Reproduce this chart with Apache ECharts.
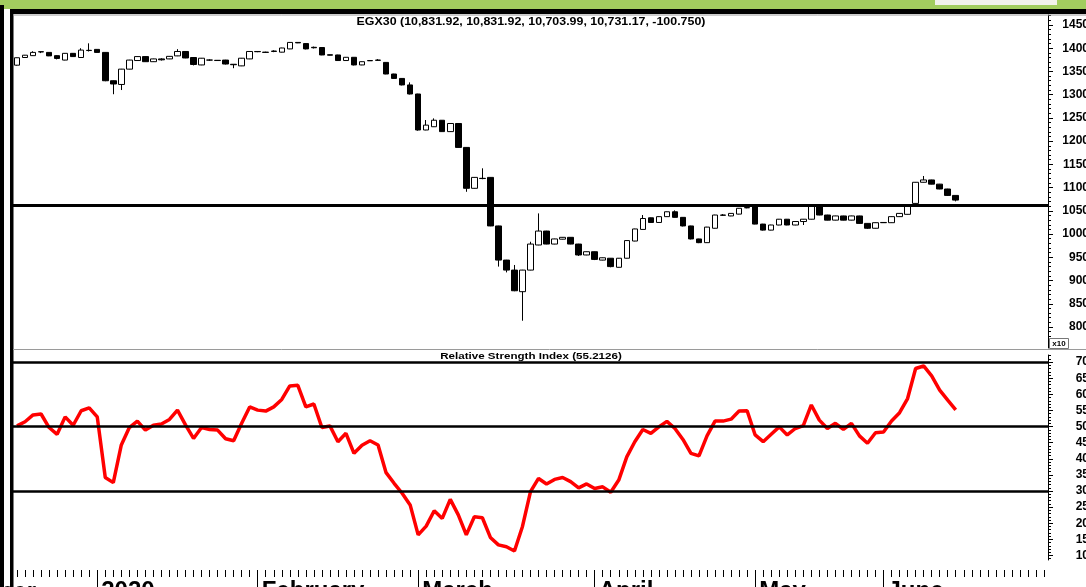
<!DOCTYPE html>
<html>
<head>
<meta charset="utf-8">
<script src="https://cdn.jsdelivr.net/npm/echarts@6/dist/echarts.min.js"></script>
<style>
  html, body { margin: 0; padding: 0; background: #fff; }
  #chart { width: 1086px; height: 587px; }
</style>
</head>
<body>
<div id="chart"></div>
<script>
// trading days (last 11 are empty future slots on the axis)
const dates = [
  '2019-12-18','2019-12-19','2019-12-22','2019-12-23','2019-12-24','2019-12-25','2019-12-26','2019-12-29','2019-12-30','2019-12-31',
  '2020-01-02','2020-01-05','2020-01-06','2020-01-08','2020-01-09','2020-01-12','2020-01-13','2020-01-14','2020-01-15','2020-01-16',
  '2020-01-19','2020-01-20','2020-01-21','2020-01-22','2020-01-23','2020-01-26','2020-01-27','2020-01-28','2020-01-29','2020-01-30',
  '2020-02-02','2020-02-03','2020-02-04','2020-02-05','2020-02-06','2020-02-09','2020-02-10','2020-02-11','2020-02-12','2020-02-13',
  '2020-02-16','2020-02-17','2020-02-18','2020-02-19','2020-02-20','2020-02-23','2020-02-24','2020-02-25','2020-02-26','2020-02-27',
  '2020-03-01','2020-03-02','2020-03-03','2020-03-04','2020-03-05','2020-03-08','2020-03-09','2020-03-10','2020-03-11','2020-03-15',
  '2020-03-16','2020-03-17','2020-03-18','2020-03-19','2020-03-22','2020-03-23','2020-03-24','2020-03-25','2020-03-26','2020-03-29',
  '2020-03-30','2020-03-31',
  '2020-04-01','2020-04-02','2020-04-05','2020-04-06','2020-04-07','2020-04-08','2020-04-09','2020-04-12','2020-04-13','2020-04-14',
  '2020-04-15','2020-04-16','2020-04-21','2020-04-22','2020-04-23','2020-04-26','2020-04-27','2020-04-28','2020-04-29','2020-04-30',
  '2020-05-03','2020-05-04','2020-05-05','2020-05-06','2020-05-07','2020-05-10','2020-05-11','2020-05-12','2020-05-13','2020-05-14',
  '2020-05-17','2020-05-18','2020-05-19','2020-05-20','2020-05-21','2020-05-31',
  '2020-06-01','2020-06-02','2020-06-03','2020-06-04','2020-06-07','2020-06-08','2020-06-09','2020-06-10','2020-06-11','2020-06-14',
  '2020-06-15','2020-06-16','2020-06-17','2020-06-18','2020-06-21','2020-06-22','2020-06-23','2020-06-24','2020-06-25','2020-06-28',
  '2020-06-29'
];

const opens = [
  13635,13800,13840,13925,13910,13840,13745,13890,13800,13955,
  13975,13910,13300,13220,13550,13735,13820,13710,13770,13770,
  13835,13930,13800,13640,13745,13740,13745,13655,13620,13770,
  13930,13915,13930,13915,13985,14125,14100,14020,14015,13860,
  13855,13735,13805,13640,13735,13745,13695,13445,13350,13210,
  13015,12240,12310,12450,12205,12380,11865,10985,11200,11220,
  10175,9440,9225,8760,9225,9765,10065,9785,9890,9930,
  9785,9550,9620,9440,9480,9285,9480,9850,10100,10350,
  10250,10375,10480,10360,10175,9895,9815,10125,10410,10390,
  10430,10570,10605,10215,10085,10195,10320,10195,10270,10320,
  10605,10410,10300,10390,10300,10390,10230,10125,10250,10245,
  10375,10425,10660,11115,11165,11075,10970,10832
];
const closes = [
  13795,13850,13910,13920,13835,13780,13890,13820,13960,13950,
  13910,13300,13230,13550,13745,13820,13710,13770,13750,13825,
  13930,13790,13650,13785,13745,13735,13660,13645,13785,13930,
  13925,13910,13940,14005,14125,14115,13985,14010,13855,13850,
  13735,13805,13640,13710,13730,13740,13445,13350,13210,13015,
  12240,12345,12450,12205,12380,11865,10985,11220,11195,10175,
  9440,9225,8780,9225,9785,10065,9785,9895,9930,9785,
  9550,9620,9455,9490,9300,9480,9860,10110,10335,10250,
  10375,10480,10360,10175,9895,9815,10150,10410,10405,10445,
  10555,10565,10215,10085,10195,10320,10195,10270,10320,10605,
  10410,10300,10390,10300,10390,10230,10125,10245,10245,10375,
  10445,10605,11115,11165,11075,10970,10832,10731
];
const lows = [
  13625,13795,13835,13895,13830,13760,13740,13815,13795,13930,
  13905,13290,13010,13100,13545,13730,13705,13705,13735,13765,
  13830,13785,13630,13635,13730,13725,13650,13570,13615,13765,
  13915,13900,13915,13910,13980,14110,13975,13995,13850,13845,
  13725,13730,13630,13635,13725,13730,13440,13340,13200,13005,
  12225,12235,12305,12200,12200,11860,10910,10980,11180,10170,
  9300,9175,8770,8135,9220,9760,9780,9780,9885,9780,
  9530,9545,9440,9435,9285,9280,9475,9845,10095,10240,
  10245,10370,10355,10165,9885,9805,9810,10120,10390,10385,
  10425,10555,10210,10075,10080,10190,10190,10190,10195,10315,
  10405,10295,10295,10295,10295,10220,10110,10120,10240,10240,
  10370,10420,10655,11110,11070,10965,10820,10704
];
const highs = [
  13800,13855,13935,13930,13915,13850,13895,13895,14000,14105,
  13980,13915,13305,13555,13750,13825,13825,13775,13785,13830,
  13980,13935,13805,13790,13760,13745,13750,13660,13790,13935,
  13940,13925,13955,14010,14130,14130,14105,14035,14020,13865,
  13860,13810,13810,13715,13740,13765,13700,13450,13355,13265,
  13020,12455,12490,12455,12385,12385,11870,11225,11415,11225,
  10180,9445,9335,9230,9835,10445,10070,9900,9935,9935,
  9790,9625,9625,9495,9485,9485,9865,10115,10410,10355,
  10380,10485,10510,10365,10180,9900,10155,10415,10430,10450,
  10560,10600,10610,10220,10200,10325,10325,10275,10325,10610,
  10610,10415,10395,10395,10395,10395,10235,10250,10255,10380,
  10450,10610,11120,11250,11170,11080,10975,10832
];

const rsi = [
  50.2,51.5,53.6,53.9,49.7,47.6,53.0,50.4,54.9,55.8,
  53.0,34.2,32.6,44.3,49.7,51.7,48.9,50.4,50.8,52.2,
  55.1,50.5,46.3,49.7,49.1,48.9,46.2,45.6,51.0,56.1,
  55.1,54.8,56.1,58.4,62.6,62.8,56.1,57.0,49.7,50.2,
  45.3,47.9,41.7,44.2,45.6,44.3,35.7,32.4,29.3,25.7,
  16.4,19.1,23.9,21.5,27.4,22.6,16.4,22.0,21.7,15.6,
  13.3,12.7,11.4,19.0,29.8,33.9,32.2,33.6,34.2,32.9,
  31.0,32.2,30.8,31.3,29.6,33.4,40.6,45.3,49.1,47.9,
  49.9,51.6,49.4,46.0,41.7,40.9,47.1,51.7,51.7,52.3,
  54.8,54.9,47.4,45.3,47.6,49.9,47.4,49.4,50.3,56.7,
  52.0,49.4,51.0,49.1,51.0,47.1,44.8,48.1,48.3,51.7,
  54.3,58.7,68.0,68.8,65.7,61.3,58.2,55.2
];

const priceLabels = [8000,8500,9000,9500,10000,10500,11000,11500,12000,12500,13000,13500,14000,14500];
const rsiLabels = [10,15,20,25,30,35,40,45,50,55,60,65,70];
const rsiLevels = [70, 50, 30];
const supportLevel = 10620;
const monthNames = { '01': '2020', '02': 'February', '03': 'March', '04': 'April', '05': 'May', '06': 'June' };

const candles = opens.map((o, i) => [o, closes[i], lows[i], highs[i]]);
const isMonthStart = (i) => i > 0 && dates[i].slice(5, 7) !== dates[i - 1].slice(5, 7);

const priceMinor = [];
for (let v = 7600; v <= 14700; v += 100) priceMinor.push(v);
const rsiMinor = [];
for (let v = 9; v <= 72; v++) rsiMinor.push(v);

const FONT = '"Liberation Sans", Arial, sans-serif';
const PRICE_MIN = 7548, PRICE_MAX = 14715;
const RSI_MIN = 8.6, RSI_MAX = 72.2;

const chart = echarts.init(document.getElementById('chart'));

const yLabel = {
  color: '#000', fontFamily: FONT, fontWeight: 'bold', fontSize: 12,
  align: 'right', margin: 41
};

chart.setOption({
  animation: false,
  backgroundColor: '#fff',
  grid: [
    { left: 13, right: 38, top: 15, height: 333, outerBoundsMode: 'none' },
    { left: 13, right: 38, top: 355, height: 205, outerBoundsMode: 'none' }
  ],
  xAxis: [
    {
      type: 'category', gridIndex: 0, data: dates, position: 'bottom',
      axisLine: { show: false }, axisTick: { show: false }, axisLabel: { show: false }
    },
    {
      type: 'category', gridIndex: 1, data: dates, position: 'bottom', offset: 10,
      axisLine: { show: false },
      axisTick: { show: true, interval: 0, alignWithLabel: true, length: 7, lineStyle: { color: '#000' } },
      axisLabel: {
        interval: (i) => isMonthStart(i),
        formatter: (v) => monthNames[v.slice(5, 7)],
        color: '#000', fontFamily: FONT, fontWeight: 'bold', fontSize: 24,
        align: 'left', margin: 9, padding: [0, 0, 0, 4]
      }
    },
    {
      type: 'category', gridIndex: 1, data: dates, position: 'bottom', offset: 10,
      axisLine: { show: false },
      axisTick: { show: true, interval: (i) => isMonthStart(i), alignWithLabel: true, length: 22, lineStyle: { color: '#000' } },
      axisLabel: { show: false }
    }
  ],
  yAxis: [
    {
      type: 'value', gridIndex: 0, position: 'right', min: PRICE_MIN, max: PRICE_MAX,
      splitLine: { show: false },
      axisLine: { show: true, lineStyle: { color: '#000' } },
      axisTick: { show: true, customValues: priceLabels, length: 5, lineStyle: { color: '#000' } },
      axisLabel: Object.assign({ customValues: priceLabels, formatter: (v) => String(v / 10) }, yLabel)
    },
    {
      type: 'value', gridIndex: 0, position: 'right', min: PRICE_MIN, max: PRICE_MAX,
      splitLine: { show: false }, axisLine: { show: false }, axisLabel: { show: false },
      axisTick: { show: true, customValues: priceMinor, length: 3, lineStyle: { color: '#000' } }
    },
    {
      type: 'value', gridIndex: 1, position: 'right', min: RSI_MIN, max: RSI_MAX,
      splitLine: { show: false },
      axisLine: { show: true, lineStyle: { color: '#000' } },
      axisTick: { show: true, customValues: rsiLabels, length: 5, lineStyle: { color: '#000' } },
      axisLabel: Object.assign({ customValues: rsiLabels }, yLabel)
    },
    {
      type: 'value', gridIndex: 1, position: 'right', min: RSI_MIN, max: RSI_MAX,
      splitLine: { show: false }, axisLine: { show: false }, axisLabel: { show: false },
      axisTick: { show: true, customValues: rsiMinor, length: 3, lineStyle: { color: '#000' } }
    }
  ],
  series: [
    {
      type: 'candlestick', xAxisIndex: 0, yAxisIndex: 0, data: candles, barWidth: 6,
      itemStyle: { color: '#fff', color0: '#000', borderColor: '#000', borderColor0: '#000', borderWidth: 1 },
      markLine: {
        silent: true, symbol: 'none', label: { show: false },
        lineStyle: { color: '#000', width: 3, type: 'solid' },
        data: [{ yAxis: supportLevel }]
      }
    },
    {
      type: 'line', xAxisIndex: 1, yAxisIndex: 2, data: [], z: 1,
      markLine: {
        silent: true, symbol: 'none', label: { show: false },
        lineStyle: { color: '#000', width: 2.5, type: 'solid' },
        data: rsiLevels.map((v) => ({ yAxis: v }))
      }
    },
    {
      type: 'line', xAxisIndex: 1, yAxisIndex: 2, data: rsi, z: 3,
      showSymbol: false, smooth: false,
      lineStyle: { color: '#ff0000', width: 3.5 }
    }
  ],
  graphic: [
    { type: 'rect', z: 20, shape: { x: 0, y: 0, width: 1086, height: 9 }, style: { fill: '#a2cd5f' } },
    { type: 'rect', z: 21, shape: { x: 935, y: 0, width: 122, height: 5 }, style: { fill: '#f2f2ec' } },
    { type: 'rect', z: 20, shape: { x: 0, y: 5, width: 4, height: 582 }, style: { fill: '#000' } },
    { type: 'rect', z: 20, shape: { x: 10, y: 9, width: 3.5, height: 578 }, style: { fill: '#000' } },
    { type: 'rect', z: 20, shape: { x: 10, y: 9, width: 1076, height: 5 }, style: { fill: '#000' } },
    { type: 'line', z: 20, shape: { x1: 13, y1: 15, x2: 1086, y2: 15 }, style: { stroke: '#9a9a9a', lineWidth: 1 } },
    { type: 'line', z: 20, shape: { x1: 13, y1: 349.5, x2: 1086, y2: 349.5 }, style: { stroke: '#9a9a9a', lineWidth: 1 } },
    { type: 'rect', z: 20, shape: { x: 1049.5, y: 338.5, width: 19, height: 10 }, style: { fill: '#fff', stroke: '#777', lineWidth: 1 } },
    {
      type: 'text', z: 21, x: 1059, y: 344,
      style: { text: 'x10', fill: '#000', font: 'bold 8px ' + FONT, textAlign: 'center', textVerticalAlign: 'middle', align: 'center', verticalAlign: 'middle' }
    },
    {
      type: 'text', z: 21, x: 531, y: 22, scaleX: 1.24,
      style: {
        text: 'EGX30 (10,831.92, 10,831.92, 10,703.99, 10,731.17, -100.750)',
        fill: '#000', font: 'bold 10px ' + FONT,
        textAlign: 'center', textVerticalAlign: 'middle', align: 'center', verticalAlign: 'middle'
      }
    },
    {
      type: 'text', z: 21, x: 531, y: 356, scaleX: 1.22,
      style: {
        text: 'Relative Strength Index (55.2126)',
        fill: '#000', font: 'bold 9.5px ' + FONT,
        textAlign: 'center', textVerticalAlign: 'middle', align: 'center', verticalAlign: 'middle'
      }
    },
    {
      type: 'text', z: 19, x: 36, y: 580,
      style: {
        text: 'December', fill: '#000', font: 'bold 24px ' + FONT,
        textAlign: 'right', textVerticalAlign: 'top', align: 'right', verticalAlign: 'top'
      }
    }
  ]
});
</script>
</body>
</html>
